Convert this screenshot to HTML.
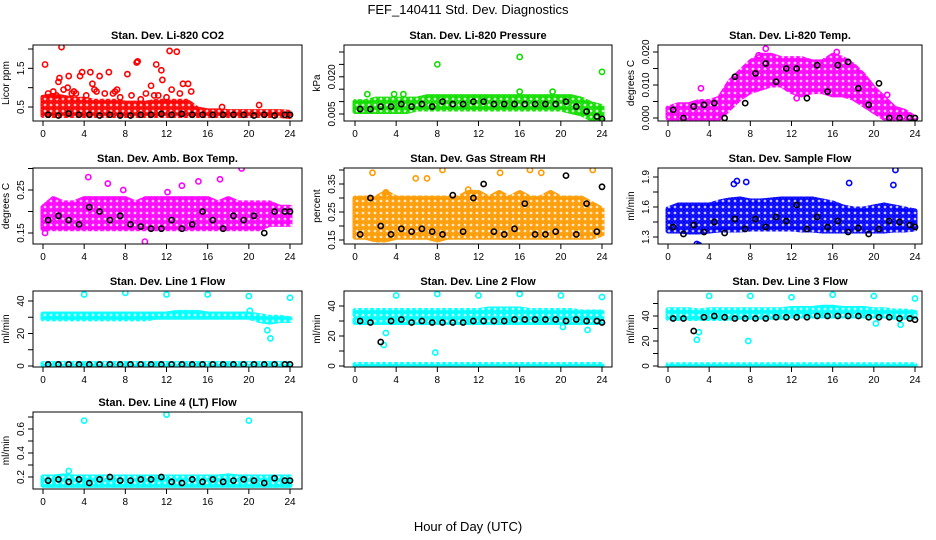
<!DOCTYPE html>
<html><head><meta charset="utf-8"><style>
html,body{margin:0;padding:0;background:#fff}
svg{display:block;font-family:"Liberation Sans",Arial,sans-serif}
</style></head><body>
<svg id="c" width="936" height="540" viewBox="0 0 936 540">
<text x="468" y="14" text-anchor="middle" font-size="13">FEF_140411  Std. Dev. Diagnostics</text>
<text x="468" y="531" text-anchor="middle" font-size="13">Hour of Day (UTC)</text>
</svg>
<script>
const hours=[0,1,2,3,4,5,6,7,8,9,10,11,12,13,14,15,16,17,18,19,20,21,22,23,24];
const xTicks=[0,4,8,12,16,20,24];
// CO2
const co2Lo=[0.28,0.28,0.28,0.28,0.28,0.28,0.28,0.28,0.28,0.28,0.28,0.28,0.28,0.28,0.28,0.28,0.28,0.28,0.28,0.28,0.28,0.28,0.28,0.28,0.25];
const co2Hi=[0.75,0.8,0.75,0.7,0.7,0.65,0.65,0.65,0.6,0.6,0.6,0.65,0.65,0.65,0.65,0.45,0.4,0.4,0.38,0.38,0.38,0.38,0.38,0.38,0.36];
const co2Black=[0.3,0.28,0.33,0.3,0.3,0.28,0.3,0.28,0.28,0.3,0.3,0.32,0.3,0.32,0.3,0.3,0.3,0.3,0.3,0.3,0.28,0.3,0.28,0.3,0.3];
const co2OutX=[0.2,1.8,1.6,1.5,2.5,3.6,3.8,4.6,5.5,6.4,7.2,8.2,9.1,9.2,11,11.5,11.6,12.3,13,13.6,14.1,10.5,4.8,2.4,12.5,21,17.4,0.5,1,2,3,3.2,4.2,5,5.2,6,7,7.5,8.6,9.5,10,10.8,12,13.3,14.4,1.3,2.8,6.8,11.2];
const co2OutY=[1.6,2.05,1.25,1.15,1.3,1.3,1.4,1.4,1.3,1.4,0.95,1.35,1.65,1.68,1.6,1.45,1.2,1.95,1.93,1.1,1.1,1.05,1.1,1.0,0.95,0.55,0.5,0.85,0.9,0.95,0.9,0.85,0.8,0.95,0.9,0.85,0.9,0.75,0.8,0.7,0.85,0.8,0.75,0.85,0.9,0.8,0.85,0.85,0.8,0.8];
// Pressure
const prLo=[0.006,0.006,0.006,0.006,0.006,0.006,0.007,0.007,0.007,0.007,0.007,0.007,0.007,0.007,0.007,0.007,0.007,0.007,0.007,0.007,0.007,0.006,0.005,0.003,0.003];
const prHi=[0.010,0.010,0.011,0.011,0.011,0.011,0.011,0.012,0.012,0.012,0.012,0.012,0.012,0.012,0.012,0.012,0.012,0.012,0.012,0.012,0.012,0.012,0.011,0.009,0.008];
const prBlack=[0.007,0.007,0.008,0.008,0.009,0.008,0.009,0.008,0.010,0.009,0.009,0.010,0.010,0.009,0.009,0.009,0.009,0.009,0.009,0.009,0.010,0.008,0.006,0.004,0.003];
const prOutX=[8,16,24,1.2,16,19.2,3.8,4.7];
const prOutY=[0.025,0.028,0.022,0.013,0.014,0.014,0.013,0.013];
// Li temp
const ltLo=[0,0,0,0,0,0,0.003,0.006,0.008,0.009,0.010,0.010,0.008,0.007,0.008,0.008,0.007,0.007,0.006,0.004,0.002,0,0,0,0];
const ltHi=[0.003,0.004,0.004,0.005,0.005,0.006,0.011,0.014,0.017,0.019,0.019,0.018,0.018,0.018,0.017,0.017,0.019,0.018,0.016,0.013,0.009,0.006,0.003,0.002,0];
const ltBlack=[0.0025,0,0.0035,0.004,0.0045,0,0.0125,0.0045,0.0135,0.0165,0.011,0.015,0.015,0.006,0.016,0.008,0.016,0.017,0.009,0.004,0.0105,0,0,0,0];
const ltOutX=[9.5,3.2,8.8,12.5,16.4,21.3];
const ltOutY=[0.021,0.009,0.019,0.006,0.02,0.007];
// Amb box temp
const abLo=[0.16,0.16,0.16,0.16,0.16,0.16,0.16,0.16,0.16,0.16,0.16,0.16,0.16,0.16,0.16,0.16,0.16,0.16,0.16,0.16,0.16,0.16,0.17,0.17,0.17];
const abHi=[0.21,0.23,0.22,0.22,0.23,0.23,0.23,0.23,0.23,0.22,0.23,0.23,0.23,0.23,0.23,0.23,0.23,0.22,0.23,0.22,0.22,0.22,0.22,0.21,0.21];
const abBlack=[0.18,0.19,0.18,0.17,0.21,0.2,0.18,0.19,0.17,0.165,0.16,0.16,0.18,0.16,0.17,0.2,0.18,0.16,0.19,0.18,0.19,0.15,0.2,0.2,0.2];
const abOutX=[0.2,4.4,6.3,9.9,13.5,15.1,17.2,19.3,7.8,12.1];
const abOutY=[0.15,0.28,0.265,0.13,0.26,0.27,0.275,0.3,0.25,0.245];
// Gas stream RH
const rhLo=[0.16,0.16,0.15,0.15,0.16,0.16,0.16,0.16,0.15,0.16,0.16,0.16,0.16,0.16,0.16,0.16,0.16,0.16,0.16,0.16,0.16,0.16,0.16,0.16,0.17];
const rhHi=[0.3,0.3,0.3,0.32,0.3,0.3,0.3,0.3,0.3,0.3,0.3,0.32,0.32,0.3,0.32,0.3,0.32,0.3,0.3,0.32,0.3,0.3,0.3,0.28,0.26];
const rhBlack=[0.17,0.3,0.2,0.17,0.19,0.18,0.19,0.18,0.17,0.31,0.18,0.3,0.35,0.18,0.17,0.19,0.28,0.17,0.17,0.18,0.38,0.17,0.28,0.18,0.34];
const rhOutX=[1.7,5.9,8.5,14.1,17,18.1,23.1,7,3,11];
const rhOutY=[0.39,0.37,0.4,0.39,0.4,0.39,0.4,0.37,0.32,0.33];
// Sample flow
const sfLo=[1.36,1.36,1.35,1.35,1.36,1.37,1.37,1.37,1.38,1.38,1.38,1.38,1.38,1.37,1.37,1.36,1.36,1.36,1.36,1.36,1.36,1.36,1.37,1.37,1.38];
const sfHi=[1.58,1.62,1.62,1.62,1.62,1.65,1.67,1.68,1.66,1.66,1.67,1.68,1.68,1.68,1.68,1.66,1.64,1.6,1.58,1.58,1.6,1.62,1.6,1.58,1.56];
const sfBlack=[1.4,1.33,1.42,1.35,1.45,1.34,1.48,1.38,1.48,1.4,1.5,1.46,1.62,1.38,1.5,1.4,1.46,1.35,1.39,1.33,1.38,1.46,1.45,1.42,1.4];
const sfOutX=[6.7,6.4,7.6,17.6,22.1,21.9,2.8,3];
const sfOutY=[1.86,1.83,1.85,1.84,1.97,1.82,1.23,1.22];
// Line 1 flow
const l1Lo=[29,29,29,29,29,29,29,29,29,29,29,30,30,30,30,30,30,30,30,30,30,28,27,28,28];
const l1Hi=[32,32,32,32,32,32,32,32,32,32,32,32,32,33,33,33,32,32,32,32,32,31,30,30,29];
const l1Black=[1,1,1,1,1,1,1,1,1,1,1,1,1,1,1,1,1,1,1,1,1,1,1,1,1];
const l1OutX=[4,8,12,16,20,24,21.8,22.1,20.1];
const l1OutY=[44,45,44,44,43,42,22,17,34];
// Line 2 flow
const l2Lo=[34,34,34,34,34,34,34,34,34,34,34,34,34,34,34,34,34,34,34,34,34,34,33,33,33];
const l2Hi=[37,37,37,37,37,37,37,37,37,37,37,37,37,38,38,38,38,37,37,37,37,37,36,36,36];
const l2Black=[30,29,16,30,31,29,30,29,29,29,29,30,30,30,30,31,31,31,31,31,30,31,30,30,29];
const l2OutX=[4,8,12,16,20,24,2.8,3,7.8,20.2,22.6];
const l2OutY=[47,48,47,48,47,46,14,22,9,26,24];
// Line 3 flow
const l3Lo=[38,38,38,38,38,38,38,39,39,39,39,39,40,40,40,40,40,40,40,40,40,40,39,39,39];
const l3Hi=[45,45,45,44,45,45,45,45,45,45,45,45,46,46,46,47,47,46,46,46,45,45,44,44,43];
const l3Black=[38,38,28,39,40,39,38,38,38,38,39,39,39,39,40,40,40,40,40,39,39,39,38,38,37];
const l3OutX=[4,8,12,16,20,24,2.8,3,7.8,20.2,22.6];
const l3OutY=[56,56,55,57,56,54,21,27,20,34,33];
// Line 4 flow
const l4Lo=[0.13,0.13,0.13,0.13,0.13,0.13,0.13,0.13,0.13,0.13,0.13,0.13,0.13,0.13,0.13,0.13,0.13,0.13,0.13,0.13,0.13,0.13,0.13,0.13,0.13];
const l4Hi=[0.2,0.2,0.21,0.2,0.2,0.2,0.2,0.2,0.2,0.2,0.2,0.2,0.2,0.2,0.2,0.2,0.2,0.2,0.21,0.2,0.2,0.2,0.2,0.2,0.2];
const l4Black=[0.17,0.18,0.16,0.18,0.15,0.18,0.2,0.17,0.17,0.18,0.18,0.2,0.16,0.15,0.18,0.16,0.18,0.16,0.17,0.18,0.17,0.15,0.19,0.17,0.17];
const l4OutX=[4,12,20,2.5];
const l4OutY=[0.67,0.72,0.67,0.25];

const cols=[{x0:43,L:33,R:302},{x0:355,L:344,R:612},{x0:668,L:658,R:922}];
const rows=[{T:45,B:121},{T:168,B:244},{T:291,B:367},{T:412,B:489}];
const panels=[
 {name:'co2',title:'Stan. Dev. Li-820 CO2',yl:'Licor ppm',c:0,r:0,color:'#ff0000',v1:0.5,p1:107,v2:2.0,p2:49,ticks:[0.5,1,1.5,2],labels:[0.5,1.5],fmt:1,lo:co2Lo,hi:co2Hi,bk:co2Black,ox:co2OutX,oy:co2OutY},
 {name:'pressure',title:'Stan. Dev. Li-820 Pressure',yl:'kPa',c:1,r:0,color:'#11dd00',v1:0.005,p1:114,v2:0.03,p2:52,ticks:[0.005,0.01,0.015,0.02,0.025,0.03],labels:[0.005,0.02],fmt:3,lo:prLo,hi:prHi,bk:prBlack,ox:prOutX,oy:prOutY},
 {name:'li-temp',title:'Stan. Dev. Li-820 Temp.',yl:'degrees C',c:2,r:0,color:'#ff00ff',v1:0,p1:118,v2:0.02,p2:52,ticks:[0,0.005,0.01,0.015,0.02],labels:[0,0.01,0.02],fmt:3,lo:ltLo,hi:ltHi,bk:ltBlack,ox:ltOutX,oy:ltOutY},
 {name:'amb-temp',title:'Stan. Dev. Amb. Box Temp.',yl:'degrees C',c:0,r:1,color:'#ff00ff',v1:0.15,p1:233,v2:0.25,p2:190,ticks:[0.15,0.2,0.25,0.3],labels:[0.15,0.25],fmt:2,lo:abLo,hi:abHi,bk:abBlack,ox:abOutX,oy:abOutY},
 {name:'gas-rh',title:'Stan. Dev. Gas Stream RH',yl:'percent',c:1,r:1,color:'#ff9a00',v1:0.15,p1:240,v2:0.35,p2:184,ticks:[0.15,0.2,0.25,0.3,0.35,0.4],labels:[0.15,0.25,0.35],fmt:2,lo:rhLo,hi:rhHi,bk:rhBlack,ox:rhOutX,oy:rhOutY},
 {name:'sample-flow',title:'Stan. Dev. Sample Flow',yl:'ml/min',c:2,r:1,color:'#0000ff',v1:1.3,p1:237,v2:1.9,p2:177,ticks:[1.3,1.45,1.6,1.75,1.9],labels:[1.3,1.6,1.9],fmt:1,lo:sfLo,hi:sfHi,bk:sfBlack,ox:sfOutX,oy:sfOutY},
 {name:'line1-flow',title:'Stan. Dev. Line 1 Flow',yl:'ml/min',c:0,r:2,color:'#00ffff',v1:0,p1:366,v2:40,p2:301,ticks:[0,10,20,30,40],labels:[0,20,40],fmt:0,lo:l1Lo,hi:l1Hi,bk:l1Black,ox:l1OutX,oy:l1OutY,zero:false},
 {name:'line2-flow',title:'Stan. Dev. Line 2 Flow',yl:'ml/min',c:1,r:2,color:'#00ffff',v1:0,p1:366,v2:40,p2:306,ticks:[0,10,20,30,40],labels:[0,20,40],fmt:0,lo:l2Lo,hi:l2Hi,bk:l2Black,ox:l2OutX,oy:l2OutY,zero:true,lo2:[29,29,29,29,29,29,29,29,29,29,29,29,29,29,29,29,29,29,29,29,29,29,29,29,29],hi2:[31,31,31,31,31,31,31,31,31,31,31,31,31,31,31,31,31,31,31,31,31,31,31,31,31]},
 {name:'line3-flow',title:'Stan. Dev. Line 3 Flow',yl:'ml/min',c:2,r:2,color:'#00ffff',v1:0,p1:366,v2:40,p2:316,ticks:[0,10,20,30,40,50],labels:[0,20,40],fmt:0,lo:l3Lo,hi:l3Hi,bk:l3Black,ox:l3OutX,oy:l3OutY,zero:true},
 {name:'line4-flow',title:'Stan. Dev. Line 4 (LT) Flow',yl:'ml/min',c:0,r:3,color:'#00ffff',v1:0.2,p1:477,v2:0.6,p2:429,ticks:[0.2,0.3,0.4,0.5,0.6,0.7],labels:[0.2,0.4,0.6],fmt:1,lo:l4Lo,hi:l4Hi,bk:l4Black,ox:l4OutX,oy:l4OutY}
];
const NS='http://www.w3.org/2000/svg';
const svg=document.getElementById('c');
function mk(tag,attrs,parent){const e=document.createElementNS(NS,tag);for(const k in attrs)e.setAttribute(k,attrs[k]);(parent||svg).appendChild(e);return e;}
const defs=mk('defs',{});
panels.forEach(p=>{
 const col=cols[p.c],row=rows[p.r];
 const xs=h=>col.x0+h*247/24;
 const ys=v=>p.p1+(v-p.v1)*(p.p2-p.p1)/(p.v2-p.v1);
 const pat=mk('pattern',{id:'pat'+p.name,width:6,height:6,patternUnits:'userSpaceOnUse'},defs);
 mk('rect',{x:0,y:0,width:6,height:6,fill:p.color,'fill-opacity':0.55},pat);
 mk('circle',{cx:3,cy:3,r:2.2,fill:'#fff','fill-opacity':0.6,stroke:p.color,'stroke-width':1.6},pat);
 mk('circle',{cx:0,cy:0,r:1.4,fill:p.color},pat);
 mk('circle',{cx:6,cy:6,r:1.4,fill:p.color},pat);
 mk('circle',{cx:6,cy:0,r:1.4,fill:p.color},pat);
 mk('circle',{cx:0,cy:6,r:1.4,fill:p.color},pat);
 const g=mk('g',{});
 
 
 const t=mk('text',{x:(col.L+col.R)/2,y:row.T-6,'text-anchor':'middle','font-size':11,'font-weight':'bold'},g);
 t.textContent=p.title;
 
 
 const clip='cl'+p.name;
 const cp=mk('clipPath',{id:clip},g);mk('rect',{x:col.L,y:row.T,width:col.R-col.L,height:row.B-row.T},cp);
 const pg=mk('g',{'clip-path':'url(#'+clip+')'},g);
 function band(lo,hi,nm){
  let d='M'+hours.map((h,i)=>xs(h)+','+ys(hi[i])).join('L')+'L'+hours.slice().reverse().map((h,j)=>{const i=hours.length-1-j;return xs(h)+','+ys(lo[i]);}).join('L')+'Z';
  const b=mk('path',{d:d,fill:'url(#pat'+p.name+')',stroke:'url(#pat'+p.name+')','stroke-width':5,'stroke-linejoin':'round'},pg);
  
  
 }
 band(p.lo,p.hi,p.name+'-band');
 if(p.lo2)band(p.lo2,p.hi2,p.name+'-band-lower');
 if(p.zero){const z=hours.map(()=>0),o=hours.map(()=>1);band(z,o,p.name+'-zero-band');}
 if(p.name==='line1-flow'){const z=hours.map(()=>0.5),o=hours.map(()=>1.5);band(z,o,p.name+'-zero-band');}
 p.ox.forEach((h,i)=>{
  const c=mk('circle',{cx:xs(h),cy:ys(p.oy[i]),r:2.6,fill:'none',stroke:p.color,'stroke-width':1.6},pg);
  
  
 });
 p.bk.forEach((v,i)=>{
  const c=mk('circle',{cx:xs(hours[i]+0.5>24?24:hours[i]+0.5),cy:ys(v),r:2.6,fill:'none',stroke:'#000','stroke-width':1.6},pg);
  
  
 });
 const bx=mk('rect',{x:col.L,y:row.T,width:col.R-col.L,height:row.B-row.T,fill:'none',stroke:'#000','stroke-width':1},g);
 
 
 xTicks.forEach(h=>{
  mk('line',{x1:xs(h),x2:xs(h),y1:row.B,y2:row.B+5,stroke:'#000'},g);
  const tl=mk('text',{x:xs(h),y:row.B+16,'text-anchor':'middle','font-size':10},g);
  tl.textContent=h;
  
  
 });
 p.ticks.forEach(v=>{mk('line',{x1:col.L-5,x2:col.L,y1:ys(v),y2:ys(v),stroke:'#000'},g);});
 p.labels.forEach(v=>{
  const y=ys(v),x=col.L-9;
  const tl=mk('text',{x:x,y:y,'text-anchor':'middle','font-size':10,transform:'rotate(-90 '+x+' '+y+')'},g);
  tl.textContent=v.toFixed(p.fmt);
  
  
 });
 const yx=col.L-24,yy=(row.T+row.B)/2;
 const yl=mk('text',{x:yx,y:yy,'text-anchor':'middle','font-size':10,transform:'rotate(-90 '+yx+' '+yy+')'},g);
 yl.textContent=p.yl;
 
 
});
</script>
</body></html>
